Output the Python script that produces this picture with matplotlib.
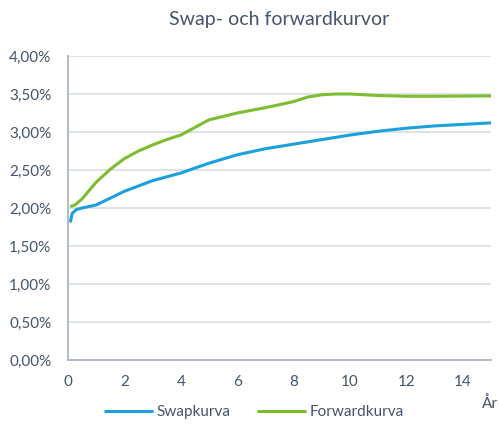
import matplotlib
matplotlib.use("Agg")
import matplotlib.pyplot as plt
from matplotlib.ticker import FuncFormatter

# Data (years, percent)
swap_years = [0.08, 0.15, 0.3, 0.5, 1, 1.5, 2, 3, 4, 5, 6, 7, 8, 9, 10, 11, 12, 13, 14, 15]
swap_rates = [1.81, 1.93, 1.98, 2.00, 2.04, 2.13, 2.22, 2.36, 2.46, 2.59, 2.70, 2.78, 2.84,
              2.90, 2.96, 3.01, 3.05, 3.08, 3.10, 3.12]

fwd_years = [0.08, 0.25, 0.5, 1, 1.5, 2, 2.5, 3, 3.5, 4, 4.5, 5, 6, 7, 8, 8.5, 9, 9.5,
             10, 11, 12, 13, 15]
fwd_rates = [2.02, 2.04, 2.12, 2.34, 2.51, 2.65, 2.75, 2.83, 2.90, 2.96, 3.06, 3.16, 3.25,
             3.32, 3.40, 3.46, 3.49, 3.50, 3.50, 3.48, 3.47, 3.47, 3.475]

x_ticks = [0, 2, 4, 6, 8, 10, 12, 14]
y_ticks = [0.0, 0.5, 1.0, 1.5, 2.0, 2.5, 3.0, 3.5, 4.0]

title = "Swap- och forwardkurvor"
x_label = "År"
series_names = ["Swapkurva", "Forwardkurva"]

text_color = "#44546A"
blue = "#1AA0DD"
green = "#7DBE30"

plt.rcParams['font.family'] = ['Lato', 'DejaVu Sans']

fig = plt.figure(figsize=(4.99, 4.25), dpi=100)
ax = fig.add_axes([68 / 499, 1 - 360 / 425, (491 - 68) / 499, (360 - 56) / 425])

ax.plot(swap_years, swap_rates, color=blue, lw=2.2, label=series_names[0], solid_capstyle='butt')
ax.plot(fwd_years, fwd_rates, color=green, lw=2.2, label=series_names[1], solid_capstyle='butt')

ax.set_xlim(0, 15)
ax.set_ylim(0, 4.0)
ax.set_xticks(x_ticks)
ax.set_yticks(y_ticks)
ax.yaxis.set_major_formatter(FuncFormatter(lambda v, p: f"{v:.2f}".replace(".", ",") + "%"))

ax.grid(axis='y', color="#D9DDE3", lw=1.2)
ax.set_axisbelow(True)
for s in ['top', 'right']:
    ax.spines[s].set_visible(False)
for s in ['left', 'bottom']:
    ax.spines[s].set_color("#ABB5C4")
    ax.spines[s].set_linewidth(1.3)
ax.tick_params(length=0, labelcolor=text_color, labelsize=11)
ax.tick_params(axis='x', pad=11)
ax.tick_params(axis='y', pad=12)

fig.text(279 / 499, 1 - 20 / 425, title, ha='center', va='center', fontsize=14, color=text_color)
fig.text(482 / 499, 1 - 404 / 425, x_label, ha='left', va='center', fontsize=11, color=text_color)

leg = fig.legend(loc='center', bbox_to_anchor=(254 / 499, 1 - 412 / 425), ncol=2, frameon=False,
                 handlelength=3.2, columnspacing=1.75, handletextpad=0.25, fontsize=11)
for t in leg.get_texts():
    t.set_color(text_color)

fig.savefig("out.png", dpi=100)
